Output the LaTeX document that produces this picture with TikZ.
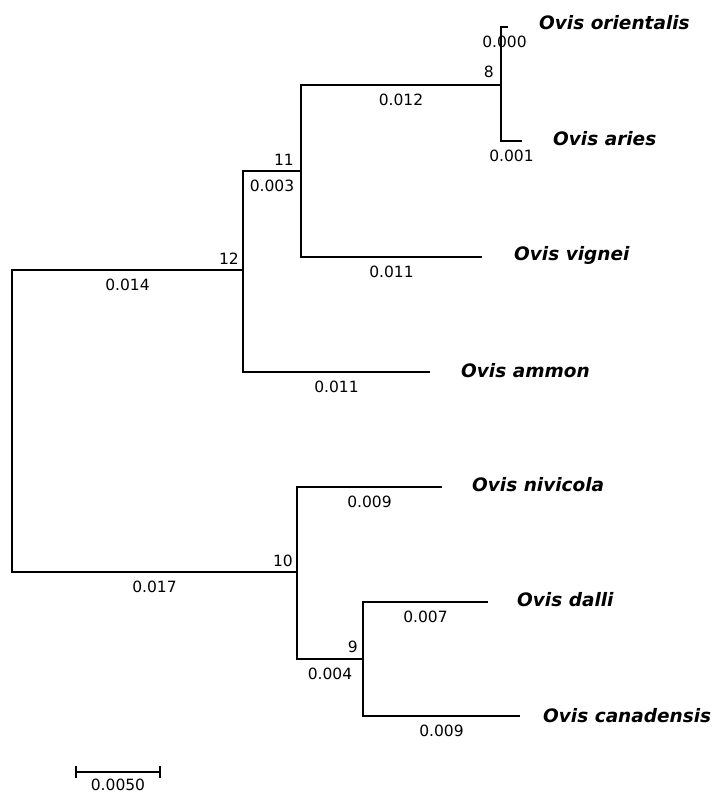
\documentclass[tikz,border=0pt]{standalone}
\usepackage{fontspec}
\setmainfont{DejaVu Sans}
\usetikzlibrary{positioning}
\tikzset{
  branch/.style={line width=1.2pt},
  blen/.style={font=\fontsize{15.5}{16}\selectfont, below=7pt, inner sep=1pt},
  nodenum/.style={font=\fontsize{15.5}{16}\selectfont, anchor=south east, inner sep=1pt},
  taxon/.style={font=\fontsize{18.5}{20}\selectfont\bfseries\itshape, inner sep=0pt}
}
\begin{document}
\begin{tikzpicture}[x=1pt,y=-1pt]
\useasboundingbox (0,0) rectangle (715,797);
\coordinate (root) at (12,421);
\coordinate (n12) at (243,270);
\coordinate (n11) at (301,171);
\coordinate (n8)  at (501,85);
\coordinate (n10) at (297,572);
\coordinate (n9)  at (363,659);

\coordinate (tOri) at (508,27);
\coordinate (tAri) at (522,141);
\coordinate (tVig) at (482,257);
\coordinate (tAmm) at (430,372);
\coordinate (tNiv) at (442,487);
\coordinate (tDal) at (488,602);
\coordinate (tCan) at (520,716);

% upper clade
\draw[branch] (root) |- (n12) node[blen,pos=0.75] (b12) {0.014};
\draw[branch] (n12) |- (n11) node[blen,pos=0.75] (b11) {0.003};
\draw[branch] (n12) |- (tAmm) node[blen,pos=0.75] (bAmm) {0.011};
\draw[branch] (n11) |- (n8) node[blen,pos=0.75] (b8) {0.012};
\draw[branch] (n11) |- (tVig) node[blen,pos=0.75] (bVig) {0.011};
\draw[branch] (n8) |- (tOri) node[blen,pos=0.75] (bOri) {0.000};
\draw[branch] (n8) |- (tAri) node[blen,pos=0.75] (bAri) {0.001};

% lower clade
\draw[branch] (root) |- (n10) node[blen,pos=0.75] (b10) {0.017};
\draw[branch] (n10) |- (tNiv) node[blen,pos=0.75] (bNiv) {0.009};
\draw[branch] (n10) |- (n9) node[blen,pos=0.75] (b9) {0.004};
\draw[branch] (n9) |- (tDal) node[blen,pos=0.75] (bDal) {0.007};
\draw[branch] (n9) |- (tCan) node[blen,pos=0.75] (bCan) {0.009};

% node numbers
\node[nodenum] (k12) at ([xshift=-3pt,yshift=4pt]n12) {12};
\node[nodenum] (k11) at ([xshift=-6pt,yshift=4pt]n11) {11};
\node[nodenum] (k8)  at ([xshift=-6pt,yshift=6pt]n8) {8};
\node[nodenum] (k10) at ([xshift=-3pt,yshift=4pt]n10) {10};
\node[nodenum] (k9)  at ([xshift=-4pt,yshift=5pt]n9) {9};

% taxa
\node[taxon,right=31pt of tOri,yshift=4pt] (Ori) {Ovis orientalis};
\node[taxon,right=31pt of tAri,yshift=2pt] (Ari) {Ovis aries};
\node[taxon,right=32pt of tVig,yshift=2pt] (Vig) {Ovis vignei};
\node[taxon,right=31pt of tAmm,yshift=1pt] (Amm) {Ovis ammon};
\node[taxon,right=30pt of tNiv,yshift=2pt] (Niv) {Ovis nivicola};
\node[taxon,right=29pt of tDal,yshift=2pt] (Dal) {Ovis dalli};
\node[taxon,right=23pt of tCan] (Can) {Ovis canadensis};

% scale bar
\coordinate (sbL) at (76,772);
\coordinate (sbR) at (160,772);
\coordinate (sbM) at (118,772);
\draw[branch] (sbL) -- (sbR);
\draw[branch] ([yshift=-6pt]sbL) -- ([yshift=6pt]sbL);
\draw[branch] ([yshift=-6pt]sbR) -- ([yshift=6pt]sbR);
\node[blen,below=6pt] (sbT) at (sbM) {0.0050};
\end{tikzpicture}
\end{document}
